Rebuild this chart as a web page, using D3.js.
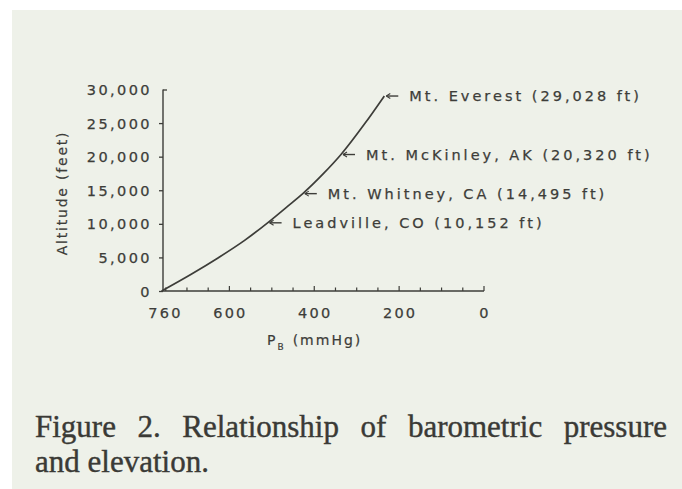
<!DOCTYPE html>
<html><head><meta charset="utf-8">
<script src="https://cdn.jsdelivr.net/npm/d3@7"></script>
<style>
html,body{margin:0;padding:0;background:#fff;}
svg{display:block;}
</style></head>
<body><svg id="c" width="682" height="489"></svg>
<script>
// Data
const pressure = [760, 690, 625, 565, 510, 465, 427, 378, 337, 280, 235];
const altitude = [0, 2500, 5000, 7500, 10152, 12500, 14495, 17500, 20320, 25000, 29028];
const siteNames = ["Leadville, CO (10,152 ft)", "Mt. Whitney, CA (14,495 ft)", "Mt. McKinley, AK (20,320 ft)", "Mt. Everest (29,028 ft)"];
const sitePressure = [510, 427, 337, 235];
const siteAltitude = [10152, 14495, 20320, 29028];
const xTickLabels = [760, 600, 400, 200, 0];
const xMinorTicks = [750, 700, 650, 600, 550, 500, 450, 400, 350, 300, 250, 200, 150, 100, 50, 0];
const yTicks = [0, 5000, 10000, 15000, 20000, 25000, 30000];
const caption = ["Figure 2. Relationship of barometric pressure", "and elevation."];

const svg = d3.select("#c");
svg.append("rect").attr("x", 12).attr("y", 10).attr("width", 670).attr("height", 479).attr("fill", "#eef1e9");

const x = d3.scaleLinear().domain([760, 0]).range([161.5, 484]);
const y = d3.scaleLinear().domain([0, 30000]).range([291, 89.5]);
const ink = "#3d3d39";
const font = "'DejaVu Sans', Verdana, sans-serif";

// axes
const g = svg.append("g");
g.append("line").attr("x1", x(760) + 1.5).attr("x2", x(760) + 1.5).attr("y1", y(30000)).attr("y2", y(0))
  .attr("stroke", ink).attr("stroke-width", 1.4);
g.append("line").attr("x1", x(760) + 1.5).attr("x2", x(0)).attr("y1", y(0)).attr("y2", y(0))
  .attr("stroke", ink).attr("stroke-width", 1.4);

// y ticks + labels
const yAxis = d3.axisLeft(y).tickValues(yTicks).tickSize(4).tickFormat(d3.format(","));
const ya = svg.append("g").attr("transform", `translate(${x(760) + 1.5},0)`).call(yAxis);
ya.select(".domain").remove();
ya.selectAll(".tick line").attr("stroke", ink).attr("stroke-width", 1.3);
ya.selectAll(".tick text").attr("x", -11).attr("dy", "0.35em").attr("fill", ink)
  .attr("stroke", ink).attr("stroke-width", 0.25)
  .style("font-family", font).style("font-size", "14.5px").style("letter-spacing", "2.4px");
ya.selectAll(".tick").filter(d => d === 30000).select("line").attr("x2", 4);

// x minor ticks (inward)
svg.append("g").selectAll("line").data(xMinorTicks).join("line")
  .attr("x1", d => x(d)).attr("x2", d => x(d))
  .attr("y1", y(0)).attr("y2", d => y(0) - (d % 200 === 0 ? 5 : 3.5))
  .attr("stroke", ink).attr("stroke-width", 1.2);

// x labels
svg.append("g").selectAll("text").data(xTickLabels).join("text")
  .attr("x", d => x(d) + (d === 760 ? 4 : 1)).attr("y", 318)
  .attr("text-anchor", "middle").attr("fill", ink)
  .attr("stroke", ink).attr("stroke-width", 0.25)
  .style("font-family", font).style("font-size", "14.5px").style("letter-spacing", "2.2px")
  .text(d => d);

// axis titles
svg.append("text").attr("transform", "translate(67,193) rotate(-90)")
  .attr("text-anchor", "middle").attr("fill", ink)
  .attr("stroke", ink).attr("stroke-width", 0.2)
  .style("font-family", font).style("font-size", "14px").style("letter-spacing", "1.8px")
  .text("Altitude (feet)");
const xt = svg.append("text").attr("x", 267).attr("y", 345).attr("fill", ink)
  .attr("stroke", ink).attr("stroke-width", 0.2)
  .style("font-family", font).style("font-size", "14px").style("letter-spacing", "2px");
xt.append("tspan").text("P");
xt.append("tspan").attr("dy", 5).style("font-size", "9px").text("B");
xt.append("tspan").attr("dy", -5).attr("dx", 7).text("(mmHg)");

// curve
const pts = pressure.map((p, i) => [p, altitude[i]]);
svg.append("path").datum(pts)
  .attr("d", d3.line().x(d => x(d[0])).y(d => y(d[1])).curve(d3.curveMonotoneX))
  .attr("fill", "none").attr("stroke", ink).attr("stroke-width", 1.7);

// site markers and labels
const sites = siteNames.map((n, i) => ({n, p: sitePressure[i], a: siteAltitude[i]}));
const sg = svg.append("g").selectAll("g").data(sites).join("g")
  .attr("transform", d => `translate(${x(d.p)},${y(d.a)})`);
sg.append("line").attr("x1", 2).attr("x2", 14).attr("y1", 0).attr("y2", 0)
  .attr("stroke", ink).attr("stroke-width", 1.4);
sg.append("path").attr("d", "M2,0 L6,-2.5 M2,0 L6,2.5").attr("stroke", ink).attr("stroke-width", 1.1).attr("fill", "none");
sg.append("text").attr("x", 25).attr("dy", "0.36em").attr("fill", ink)
  .attr("stroke", ink).attr("stroke-width", 0.25)
  .style("font-family", font).style("font-size", "14.5px").style("letter-spacing", "3px")
  .text(d => d.n);

// caption (justified first line)
const serif = "'Liberation Serif', 'Times New Roman', serif";
const c1 = svg.append("text").attr("x", 35).attr("y", 437).attr("fill", "#3a3a36")
  .attr("stroke", "#3a3a36").attr("stroke-width", 0.4)
  .style("font-family", serif).style("font-size", "31px")
  .text(caption[0]);
const natural = c1.node().getComputedTextLength();
const gaps = caption[0].split(" ").length - 1;
c1.style("word-spacing", ((632 - natural) / gaps) + "px");
svg.append("text").attr("x", 35).attr("y", 472).attr("fill", "#3a3a36")
  .attr("stroke", "#3a3a36").attr("stroke-width", 0.4)
  .style("font-family", serif).style("font-size", "31px")
  .text(caption[1]);
</script></body></html>
